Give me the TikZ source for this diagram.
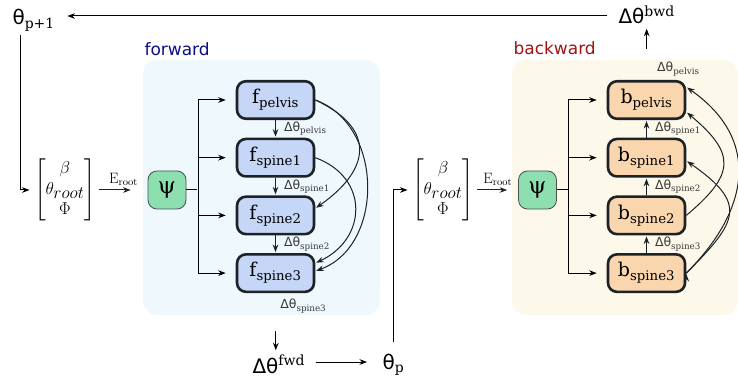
\documentclass[tikz,border=0pt]{standalone}
\usepackage{amsmath}
\usepackage{fontspec}
\usepackage{tikz}
\usetikzlibrary{positioning,arrows.meta}

\newfontfamily\djsans{DejaVu Sans}
\newfontfamily\djserif{DejaVu Serif}

\definecolor{fwdbg}{HTML}{EEF8FD}
\definecolor{bwdbg}{HTML}{FCF8EA}
\definecolor{ffill}{HTML}{C6D6F6}
\definecolor{bfill}{HTML}{FAD6AE}
\definecolor{psifill}{HTML}{8EDFB0}
\definecolor{boxline}{HTML}{1C2226}
\definecolor{fwdtext}{HTML}{0C0C8A}
\definecolor{bwdtext}{HTML}{A01414}
\definecolor{lbltext}{HTML}{3A3A3A}

\newcommand{\dth}[1]{{\djsans Δθ}$_{\text{\djserif #1}}$}
\newcommand{\blk}[2]{#1$_{\text{#2}}$}

\begin{document}
\begin{tikzpicture}[x=1pt,y=1pt,>=Stealth,shorten >=1pt,node distance=57.7pt,on grid,auto,
    netbox/.style={draw=boxline,line width=2.6pt,rounded corners=9pt,minimum width=77pt,minimum height=37.5pt,inner sep=0pt,font=\djserif\fontsize{19}{21}\selectfont},
    fnet/.style={netbox,fill=ffill},
    bnet/.style={netbox,fill=bfill},
    psibox/.style={draw=boxline!80,line width=0.8pt,fill=psifill,rounded corners=9pt,minimum size=38pt,inner sep=0pt,font=\djserif\fontsize{23}{24}\selectfont},
    dlbl/.style={text=lbltext,inner sep=2pt,xshift=6pt,font=\fontsize{12.5}{14}\selectfont},
    bigtext/.style={anchor=base west,font=\djsans\fontsize{20}{24}\selectfont},
    vecbox/.style={font=\fontsize{17.28}{20.5}\selectfont},
    elbl/.style={font=\fontsize{15}{18}\selectfont,inner sep=4pt}]
   \useasboundingbox (0,0) rectangle (738,383);
   \fill[fwdbg,rounded corners=14pt] (143,68) rectangle (380,323);
   \fill[bwdbg,rounded corners=14pt] (512,68) rectangle (738,323);
   \node[anchor=base west,text=fwdtext,font=\djsans\fontsize{17}{20}\selectfont] (lbl_fwd) at (141,327) {forward};
   \node[anchor=base west,text=bwdtext,font=\djsans\fontsize{17}{20}\selectfont] (lbl_bwd) at (510,328) {backward};

   \node[bigtext] (theta_next) at (9,358) {θ$_{\text{\djserif p+1}}$};
   \node[bigtext] (dtheta_bwd) at (615,359) {Δθ$^{\text{\djserif bwd}}$};
   \node[bigtext] (dtheta_fwd) at (249,10) {Δθ$^{\text{\djserif fwd}}$};
   \node[bigtext] (theta_p) at (379,14) {θ$_{\text{\djserif p}}$};

   \node[vecbox] (vec_f) at (65,193) {$\begin{bmatrix}\beta\\ \theta_{\textstyle root}\\ \Phi\end{bmatrix}$};
   \node[psibox] (psi_f) at (167,193) {ψ};
   \node[vecbox] (vec_b) at (443,193) {$\begin{bmatrix}\beta\\ \theta_{\textstyle root}\\ \Phi\end{bmatrix}$};
   \node[psibox] (psi_b) at (537.5,193) {ψ};

   \node[fnet] (f_pelvis) at (275.5,283) {\blk{f}{pelvis}};
   \node[fnet] (f_spine1) [below=of f_pelvis] {\blk{f}{spine1}};
   \node[fnet] (f_spine2) [below=of f_spine1] {\blk{f}{spine2}};
   \node[fnet] (f_spine3) [below=of f_spine2] {\blk{f}{spine3}};
   \node[dlbl,xshift=-6pt] (lbl_fs3) [below left=13pt and 12pt of f_spine3.south east,anchor=center] {\dth{spine3}};

   \node[bnet] (b_pelvis) at (646.5,283) {\blk{b}{pelvis}};
   \node[bnet] (b_spine1) [below=of b_pelvis] {\blk{b}{spine1}};
   \node[bnet] (b_spine2) [below=of b_spine1] {\blk{b}{spine2}};
   \node[bnet] (b_spine3) [below=of b_spine2] {\blk{b}{spine3}};
   \node[dlbl,xshift=-6pt] (lbl_bp) [above left=11pt and 8pt of b_pelvis.north east,anchor=center] {\dth{pelvis}};

   \path[->,draw=boxline,line width=1pt]
    (vec_f) edge [shorten >=17pt] node[elbl] {$\mathrm{E}_{\mathrm{root}}$} (psi_f)
    (vec_b) edge [shorten >=11pt] node[elbl] {$\mathrm{E}_{\mathrm{root}}$} (psi_b)

    (f_pelvis) edge node[dlbl] {\dth{pelvis}} (f_spine1)
    (f_spine1) edge node[dlbl] {\dth{spine1}} (f_spine2)
    (f_spine2) edge node[dlbl] {\dth{spine2}} (f_spine3)
    (f_pelvis.east) edge [out=-25,in=35,looseness=1.6] ([yshift=7pt]f_spine2.east)
    (f_pelvis.east) edge [out=-20,in=20,looseness=1.1] ([yshift=2pt]f_spine3.east)
    (f_spine1.east) edge [out=-20,in=25,looseness=1.4] ([yshift=10pt]f_spine3.east)

    (b_spine1) edge node[dlbl,swap] {\dth{spine1}} (b_pelvis)
    (b_spine2) edge node[dlbl,swap] {\dth{spine2}} (b_spine1)
    (b_spine3) edge node[dlbl,swap] {\dth{spine3}} (b_spine2)
    (b_spine2.east) edge [out=40,in=-40,looseness=1.6] ([yshift=-12pt]b_pelvis.east)
    (b_spine3.east) edge [out=45,in=-35,looseness=1.7] ([yshift=-3pt]b_spine1.east)
    (b_spine3.east) edge [out=45,in=-35,looseness=1.25] ([yshift=13pt]b_pelvis.east);

   \draw[line width=1pt] (psi_f.east) -- ++(12,0) coordinate (split_f);
   \draw[->,line width=1pt] (split_f) |- ([xshift=-9pt]f_pelvis.west);
   \draw[->,line width=1pt] (split_f) |- ([xshift=-9pt]f_spine1.west);
   \draw[->,line width=1pt] (split_f) |- ([xshift=-9pt]f_spine2.west);
   \draw[->,line width=1pt] (split_f) |- ([xshift=-9pt]f_spine3.west);
   \draw[line width=1pt] (psi_b.east) -- ++(12,0) coordinate (split_b);
   \draw[->,line width=1pt] (split_b) |- ([xshift=-9pt]b_pelvis.west);
   \draw[->,line width=1pt] (split_b) |- ([xshift=-9pt]b_spine1.west);
   \draw[->,line width=1pt] (split_b) |- ([xshift=-9pt]b_spine2.west);
   \draw[->,line width=1pt] (split_b) |- ([xshift=-9pt]b_spine3.west);

   \draw[->,line width=1pt,shorten <=8pt,shorten >=9pt] ([yshift=8pt]dtheta_bwd.base west) -- ([yshift=8pt]dtheta_bwd.base west -| theta_next.east);
   \draw[->,line width=1pt] ([yshift=-21pt]dtheta_bwd.south) -- (dtheta_bwd.south);
   \draw[->,line width=1pt] ([xshift=-13pt]theta_next.south) |- (vec_f);
   \draw[->,line width=1pt] ([xshift=-3pt,yshift=20pt]dtheta_fwd.north) -- ([xshift=-3pt]dtheta_fwd.north);
   \draw[->,line width=1pt,shorten <=7pt,shorten >=12pt] ([yshift=11pt]dtheta_fwd.base east) -- ([yshift=11pt]dtheta_fwd.base east -| theta_p.west);
   \draw[->,line width=1pt] ([yshift=8pt]theta_p.north) |- (vec_b);
\end{tikzpicture}
\end{document}
